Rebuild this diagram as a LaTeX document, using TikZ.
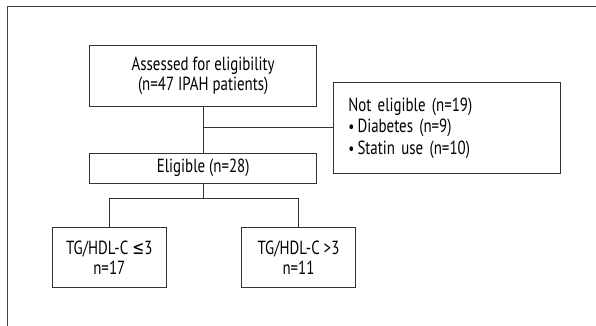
\documentclass[tikz,border=0pt]{standalone}
\usepackage{fontspec}
\setmainfont{PT Sans}[FakeStretch=0.785]
\newfontfamily\symfont{DejaVu Sans}[FakeStretch=0.75]
\newcommand{\mybul}{{\fontsize{17}{17}\selectfont\textbullet}\,}
\begin{document}
\begin{tikzpicture}[x=1pt,y=-1pt,
  box/.style={draw=black!80,line width=1.1pt,fill=white,inner sep=0pt,align=center,font=\fontsize{19}{20.6}\selectfont},
  conn/.style={draw=black!80,line width=1.1pt}]
\useasboundingbox (0,0) rectangle (596,326);
\draw[draw=black!75,line width=1pt] (7.7,6.7) rectangle (620,340);
\node[box,minimum width=227pt,minimum height=60.6pt] (assess) at (203.2,76) {Assessed for eligibility\\(n=47 IPAH patients)};
\node[box,minimum width=227pt,minimum height=90.3pt,align=left,text width=197pt,font=\fontsize{19}{21.5}\selectfont] (noteli) at (446.8,127.9) {Not eligible (n=19)\\\mybul Diabetes (n=9)\\\mybul Statin use (n=10)};
\node[box,minimum width=227pt,minimum height=30.3pt] (elig) at (203.2,168.2) {Eligible (n=28)};
\node[box,minimum width=113.6pt,minimum height=60pt] (low) at (109.3,257.7) {TG/HDL-C {\symfont ≤}3\\n=17};
\node[box,minimum width=113.6pt,minimum height=60pt] (high) at (298.5,257.7) {TG/HDL-C >3\\n=11};
\coordinate (br) at (203.7,127.7);
\coordinate (split) at (203.7,198.7);
\draw[conn] (assess.south -| br) -- (elig.north -| br);
\draw[conn] (br) -- (br -| noteli.west);
\draw[conn] (elig.south -| split) -- (split);
\draw[conn] (low.north) |- (split) -| (high.north);
\end{tikzpicture}
\end{document}
